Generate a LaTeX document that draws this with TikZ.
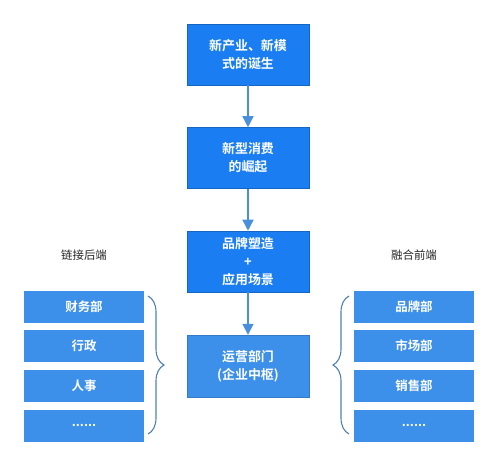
\documentclass[tikz,border=0pt]{standalone}
\usepackage{fontspec}
\setmainfont{Noto Sans CJK SC}
\newfontfamily\cjkb{Noto Sans CJK SC Bold}
\usetikzlibrary{arrows.meta,decorations.pathreplacing}
\definecolor{topblue}{HTML}{1A7EF2}
\definecolor{boxblue}{HTML}{3D90EA}
\definecolor{arrowblue}{HTML}{4A8FDB}
\definecolor{bracecol}{HTML}{4F7FB8}
\begin{document}
\begin{tikzpicture}[x=1bp,y=-1bp,
  mainbox/.style={draw=topblue!80!black,line width=0.6bp,fill=topblue,text=white,minimum width=122bp,minimum height=61bp,align=center,font=\cjkb\fontsize{13}{18}\selectfont,inner sep=0},
  lowbox/.style={draw=boxblue!85!black,line width=0.4bp,fill=boxblue,text=white,minimum width=122bp,minimum height=62bp,align=center,font=\cjkb\fontsize{13}{18}\selectfont,inner sep=0},
  sidebox/.style={fill=boxblue,text=white,minimum width=120bp,minimum height=32bp,font=\cjkb\fontsize{12.5}{15}\selectfont,inner sep=0},
  lab/.style={font=\fontsize{11.5}{14}\selectfont,text=black!85},
  arr/.style={draw=arrowblue,line width=1.6bp,-{Triangle[length=11bp,width=11bp]}},
  br/.style={draw=bracecol,line width=1.1bp,decorate,decoration={brace,amplitude=16bp,aspect=0.5}}
]
\useasboundingbox (0,0) rectangle (499,464);
\node[mainbox] (a) at (248,54.5) {新产业、新模\\式的诞生};
\node[mainbox] (b) at (248,158) {新型消费\\的崛起};
\node[mainbox] (c) at (248,261.5) {品牌塑造\\+\\应用场景};
\node[lowbox] (d) at (248,366) {运营部门\\(企业中枢)};
\draw[arr] (a) -- (b);
\draw[arr] (b) -- (c);
\draw[arr] (c) -- (d);

\node[lab] (l) at (84,255) {链接后端};
\node[sidebox] (l1) at (84,307) {财务部};
\node[sidebox] (l2) at (84,346) {行政};
\node[sidebox] (l3) at (84,386) {人事};
\node[sidebox] (l4) at (84,425.5) {......};

\node[lab] (r) at (414,255) {融合前端};
\node[sidebox] (r1) at (414,307) {品牌部};
\node[sidebox] (r2) at (414,346) {市场部};
\node[sidebox] (r3) at (414,386) {销售部};
\node[sidebox] (r4) at (414,425.5) {......};

\coordinate (lt) at (148,296);
\coordinate (lb) at (148,434);
\coordinate (rt) at (349,296);
\coordinate (rb) at (349,434);
\draw[br,decoration={mirror}] (lb) -- (lt);
\draw[br,decoration={mirror}] (rt) -- (rb);
\end{tikzpicture}
\end{document}
